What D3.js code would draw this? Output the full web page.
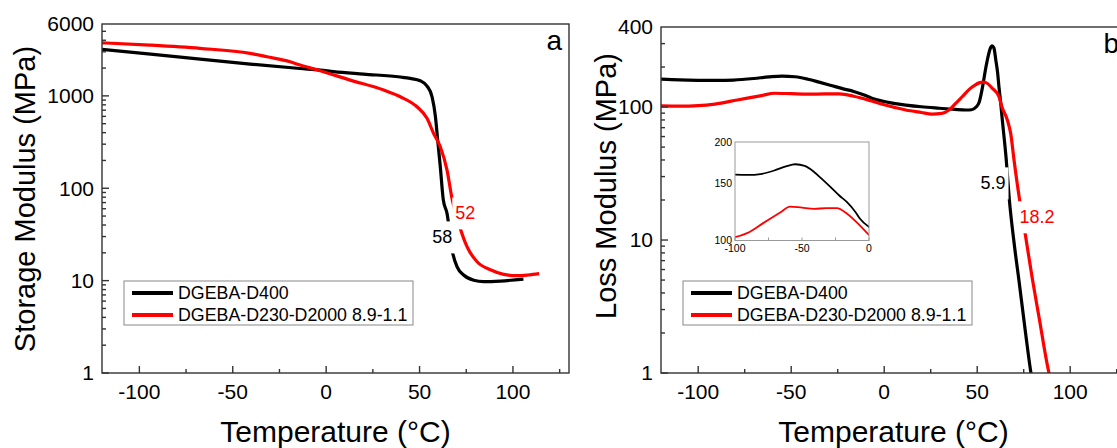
<!DOCTYPE html>
<html>
<head>
<meta charset="utf-8">
<script src="https://cdn.jsdelivr.net/npm/d3@7"></script>
<style>
  body { margin: 0; background: #fff; }
  svg { display: block; }
  text { font-family: "Liberation Sans", Arial, sans-serif; fill: #000; }
</style>
</head>
<body>
<div id="chart"></div>
<script>
// ---- data ----
const seriesNames = ["DGEBA-D400", "DGEBA-D230-D2000 8.9-1.1"];
const seriesColors = ["#000000", "#ff0000"];

const xTicks = [-100, -50, 0, 50, 100];
const xMinorTicks = [-75, -25, 25, 75, 125];
const yTicksStorage = [1, 10, 100, 1000, 6000];
const yTicksLoss = [1, 10, 100, 400];
const insetXTicks = [-100, -50, 0];
const insetYTicks = [100, 150, 200];

// (a) storage modulus, MPa
const tempStorageD400 = [-120, -94, -67.5, -40.7, -14, -3, 4, 20, 39.7, 45, 50.4, 54, 56.7, 58.5, 59.7, 61.1, 62.7, 64.7, 67.4, 70.1, 73.6, 79, 84.3, 93.3, 105.6];
const storageD400 = [3185, 2833, 2500, 2210, 1980, 1900, 1830, 1720, 1600, 1546, 1456, 1277, 978, 594, 333, 171, 75, 53.5, 21.4, 14.1, 11.5, 10.1, 9.75, 9.9, 10.4];
const tempStorageD230 = [-120, -94.3, -67.5, -40.7, -31.7, -19.3, -13.9, -3.2, 12.9, 30.8, 39.7, 48.6, 54, 57.5, 61.1, 64.7, 67.4, 71.5, 75.4, 80.8, 87.9, 95, 102.2, 108, 114];
const storageD230 = [3755, 3545, 3270, 2885, 2650, 2339, 2155, 1870, 1482, 1156, 978, 762, 571, 393, 281, 157, 77, 38.3, 23.3, 16, 13.1, 11.7, 11.3, 11.5, 11.9];

// (b) loss modulus, MPa
const tempLossD400 = [-120, -110, -100, -90, -81, -70, -62, -55, -48, -41, -35, -29, -22, -16.4, -10, -6.7, 0, 6, 11.6, 20, 29.5, 38, 44, 47, 49.4, 51, 52, 53, 54.7, 56, 57, 58, 59, 60, 61, 61.7, 62.5, 63.5, 65.5, 67.3, 70, 72.5, 76, 78.9, 81];
const lossD400 = [162, 160, 159, 158.6, 159.6, 164, 168.5, 171, 169, 162, 154, 146, 137, 131, 122, 116.5, 110, 106, 103.5, 100.5, 98, 96, 95, 95.5, 100, 108, 123, 145, 200, 245, 275, 288, 278, 226, 180, 142, 112, 80, 42, 20, 9.1, 4.9, 2.0, 1.0, 0.7];
const tempLossD230 = [-120, -110, -100, -91, -79, -66, -59, -50, -41, -32, -24, -16.4, -6.7, 0, 6, 11.6, 20, 25.7, 31, 34.8, 38, 41.8, 46, 49, 51, 53, 55, 58, 61.7, 63.3, 66.2, 68, 69.8, 72.8, 76.1, 79.6, 83.2, 88.6, 91];
const lossD230 = [102, 101.5, 102.4, 105.3, 113, 122, 127, 126, 125, 125.5, 125.5, 120.7, 111, 104, 99, 95, 91, 88.6, 89.5, 95, 105, 119, 137, 147, 152, 154, 152, 139, 120, 100, 80, 63.4, 40, 20, 10.5, 5.15, 2.65, 1.0, 0.75];

// curve annotations: [temperature, modulus, text]
const notesStorage = [[62.2, 29.6, "58"], [74.5, 53.9, "52"]];
const notesLoss = [[58.5, 26.8, "5.9"], [82.2, 14.9, "18.2"]];

const zip = (t, v) => t.map((d, i) => ({t: d, v: v[i]}));

const width = 1117, height = 448;
const svg = d3.select("#chart").append("svg")
    .attr("width", width)
    .attr("height", height);

function panel(o) {
  const x = d3.scaleLinear().domain([-120, 130]).range([o.left, o.right]);
  const y = d3.scaleLog().domain([1, o.yMax]).range([373, o.top]);
  const g = svg.append("g");

  g.append("clipPath").attr("id", "clip-" + o.id)
    .append("rect")
      .attr("x", o.left).attr("y", o.top)
      .attr("width", o.right - o.left).attr("height", 373 - o.top);

  const line = d3.line()
      .x(d => x(d.t))
      .y(d => y(d.v))
      .curve(d3.curveMonotoneX);

  const curves = g.append("g").attr("clip-path", `url(#clip-${o.id})`);
  o.series.forEach((s, i) => {
    curves.append("path")
        .datum(s)
        .attr("fill", "none")
        .attr("stroke", seriesColors[i])
        .attr("stroke-width", 3.2)
        .attr("stroke-linejoin", "round")
        .attr("d", line);
  });

  // value labels with white boxes over the curves
  o.notes.forEach((n, i) => {
    const t = g.append("text")
        .attr("x", x(n[0])).attr("y", y(n[1]))
        .attr("dy", "0.35em")
        .attr("text-anchor", "middle")
        .attr("font-size", 18)
        .style("fill", seriesColors[i])
        .text(n[2]);
    const b = t.node().getBBox();
    g.insert("rect", () => t.node())
        .attr("x", b.x - 3).attr("y", b.y - 6)
        .attr("width", b.width + 6).attr("height", b.height + 12)
        .attr("fill", "#fff");
  });

  // frame
  g.append("rect")
      .attr("x", o.left).attr("y", o.top)
      .attr("width", o.right - o.left).attr("height", 373 - o.top)
      .attr("fill", "none")
      .attr("stroke", "#333")
      .attr("stroke-width", 1.4);

  // x ticks
  g.append("g").selectAll("line").data(xTicks.concat(xMinorTicks)).join("line")
      .attr("x1", d => x(d)).attr("x2", d => x(d))
      .attr("y1", 373).attr("y2", d => xTicks.includes(d) ? 366 : 369)
      .attr("stroke", "#333").attr("stroke-width", 1.4);
  g.append("g").selectAll("text").data(xTicks).join("text")
      .attr("x", d => x(d)).attr("y", 399)
      .attr("text-anchor", "middle")
      .attr("font-size", 21)
      .text(d => d);

  // y ticks (log)
  const minor = [];
  for (let dec = 1; dec < o.yMax; dec *= 10)
    for (let k = 2; k <= 9; k++) if (dec * k < o.yMax) minor.push(dec * k);
  const major = o.yTicks.filter(d => d < o.yMax);
  g.append("g").selectAll("line").data(major.concat(minor)).join("line")
      .attr("x1", o.left).attr("x2", d => major.includes(d) ? o.left + 7 : o.left + 4)
      .attr("y1", d => y(d)).attr("y2", d => y(d))
      .attr("stroke", "#333").attr("stroke-width", 1.4);
  g.append("g").selectAll("text").data(o.yTicks).join("text")
      .attr("x", o.left - 8).attr("y", d => y(d))
      .attr("dy", "0.35em")
      .attr("text-anchor", "end")
      .attr("font-size", 21)
      .text(d => d);

  // titles
  g.append("text")
      .attr("x", (o.left + o.right) / 2).attr("y", 442)
      .attr("text-anchor", "middle")
      .attr("font-size", 30)
      .text("Temperature (\u00B0C)");
  g.append("text")
      .attr("transform", `translate(${o.titleX},${o.titleY}) rotate(-90)`)
      .attr("text-anchor", "middle")
      .attr("font-size", 29)
      .text(o.yTitle);
  g.append("text")
      .attr("x", o.right - 7).attr("y", o.top + 26)
      .attr("text-anchor", "end")
      .attr("font-size", 28)
      .text(o.letter);

  // legend
  const lg = g.append("g").attr("transform", `translate(${o.left + 22},281)`);
  lg.append("rect")
      .attr("width", 289).attr("height", 44)
      .attr("fill", "#fff")
      .attr("stroke", "#888").attr("stroke-width", 1);
  seriesNames.forEach((name, i) => {
    lg.append("line")
        .attr("x1", 8).attr("x2", 49)
        .attr("y1", 12 + i * 22).attr("y2", 12 + i * 22)
        .attr("stroke", seriesColors[i]).attr("stroke-width", 4);
    lg.append("text")
        .attr("x", 54).attr("y", 12 + i * 22)
        .attr("dy", "0.35em")
        .attr("font-size", 17.8)
        .text(name);
  });

  return {x, y, g};
}

panel({
  id: "a", left: 102, right: 569, top: 24, yMax: 6000,
  yTicks: yTicksStorage, yTitle: "Storage Modulus (MPa)", titleX: 35, titleY: 199,
  letter: "a",
  series: [zip(tempStorageD400, storageD400), zip(tempStorageD230, storageD230)],
  notes: notesStorage
});

panel({
  id: "b", left: 661, right: 1126, top: 27, yMax: 400,
  yTicks: yTicksLoss, yTitle: "Loss Modulus (MPa)", titleX: 616, titleY: 186,
  letter: "b",
  series: [zip(tempLossD400, lossD400), zip(tempLossD230, lossD230)],
  notes: notesLoss
});

// ---- inset in (b): same loss data, -100..0 C ----
const ix = d3.scaleLinear().domain([-100, 0]).range([735, 869]);
const iy = d3.scaleLog().domain([100, 200]).range([240.5, 142]);
const inset = svg.append("g");
inset.append("rect").attr("x", 735).attr("y", 142).attr("width", 134).attr("height", 98.5).attr("fill", "#fff");
inset.append("clipPath").attr("id", "clip-inset")
  .append("rect").attr("x", 735).attr("y", 142).attr("width", 134).attr("height", 98.5);

const iline = d3.line()
    .x(d => ix(d.t))
    .y(d => iy(d.v))
    .curve(d3.curveMonotoneX);

[zip(tempLossD400, lossD400), zip(tempLossD230, lossD230)].forEach((s, i) => {
  inset.append("path")
      .datum(s.filter(d => d.t >= -110 && d.t <= 10))
      .attr("clip-path", "url(#clip-inset)")
      .attr("fill", "none")
      .attr("stroke", seriesColors[i])
      .attr("stroke-width", 1.8)
      .attr("d", iline);
});

inset.append("rect")
    .attr("x", 735).attr("y", 142).attr("width", 134).attr("height", 98.5)
    .attr("fill", "none").attr("stroke", "#999").attr("stroke-width", 1);

inset.append("g").selectAll("line").data([-100, -75, -50, -25, 0]).join("line")
    .attr("x1", d => ix(d)).attr("x2", d => ix(d))
    .attr("y1", 240.5).attr("y2", 237.5)
    .attr("stroke", "#999");
inset.append("g").selectAll("text").data(insetXTicks).join("text")
    .attr("x", d => ix(d)).attr("y", 252)
    .attr("text-anchor", "middle")
    .attr("font-size", 10.5)
    .text(d => d);
inset.append("g").selectAll("text").data(insetYTicks).join("text")
    .attr("x", 732).attr("y", d => iy(d))
    .attr("dy", "0.35em")
    .attr("text-anchor", "end")
    .attr("font-size", 10.5)
    .text(d => d);
</script>
</body>
</html>
